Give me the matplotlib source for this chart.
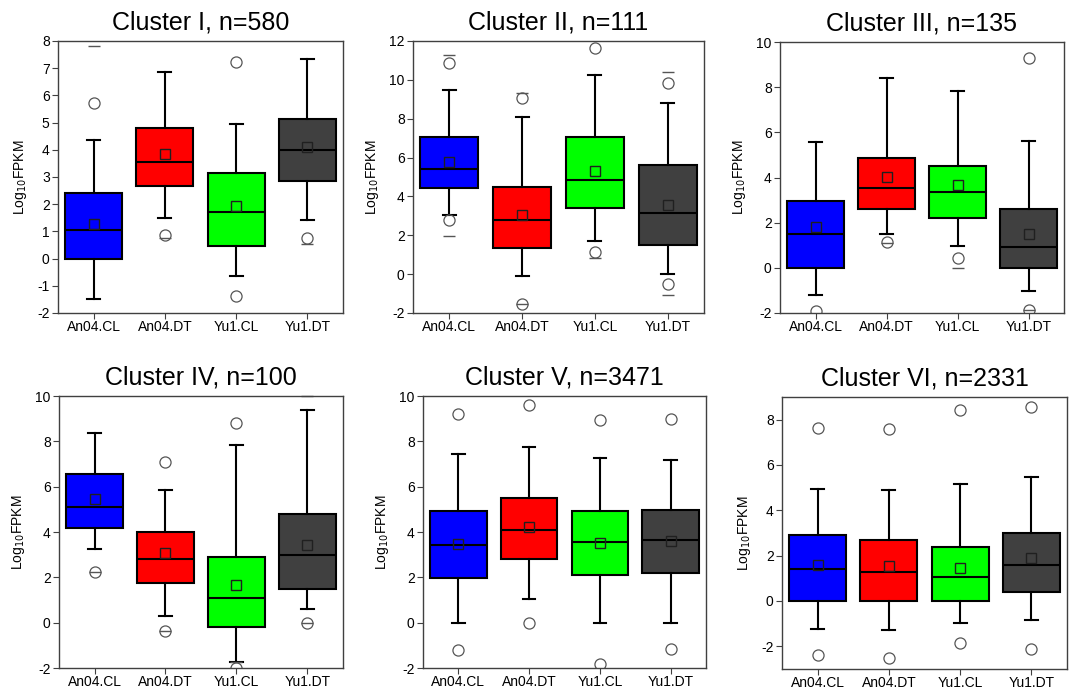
import numpy as np
import matplotlib
matplotlib.use("Agg")
import matplotlib.pyplot as plt

plt.rcParams['font.family'] = ['Liberation Sans', 'DejaVu Sans']
plt.rcParams['axes.unicode_minus'] = False

groups = ["An04.CL", "An04.DT", "Yu1.CL", "Yu1.DT"]
colors = ["#0000FF", "#FF0000", "#00FF00", "#404040"]

titles = ["Cluster I, n=580", "Cluster II, n=111", "Cluster III, n=135",
          "Cluster IV, n=100", "Cluster V, n=3471", "Cluster VI, n=2331"]

# per cluster, per group: q1, median, q3, mean, whisker low, whisker high
q1 = [[0.0, 2.67, 0.45, 2.86],
      [4.42, 1.36, 3.41, 1.49],
      [0.0, 2.60, 2.20, 0.0],
      [4.16, 1.75, -0.20, 1.48],
      [1.98, 2.83, 2.12, 2.21],
      [0.0, 0.0, 0.0, 0.40]]
med = [[1.04, 3.55, 1.73, 3.98],
       [5.39, 2.78, 4.86, 3.16],
       [1.51, 3.53, 3.34, 0.94],
       [5.09, 2.83, 1.09, 3.0],
       [3.43, 4.11, 3.54, 3.63],
       [1.40, 1.28, 1.05, 1.60]]
q3 = [[2.43, 4.80, 3.14, 5.13],
      [7.04, 4.47, 7.05, 5.60],
      [2.98, 4.86, 4.53, 2.61],
      [6.56, 4.02, 2.91, 4.79],
      [4.93, 5.49, 4.93, 4.97],
      [2.91, 2.68, 2.40, 3.02]]
mean = [[1.27, 3.84, 1.92, 4.12],
        [5.77, 3.04, 5.31, 3.58],
        [1.80, 4.04, 3.68, 1.51],
        [5.47, 3.06, 1.65, 3.42],
        [3.49, 4.21, 3.53, 3.60],
        [1.61, 1.53, 1.47, 1.89]]
wlo = [[-1.47, 1.49, -0.64, 1.42],
       [3.04, -0.09, 1.72, 0.0],
       [-1.21, 1.48, 0.96, -1.02],
       [3.25, 0.28, -1.74, 0.62],
       [0.0, 1.03, 0.0, 0.0],
       [-1.22, -1.27, -0.96, -0.83]]
whi = [[4.35, 6.87, 4.96, 7.35],
       [9.49, 8.10, 10.23, 8.80],
       [5.59, 8.40, 7.85, 5.62],
       [8.35, 5.84, 7.83, 9.39],
       [7.45, 7.75, 7.25, 7.16],
       [4.94, 4.91, 5.15, 5.46]]

# 1% / 99% points (circles)
circles = [[[5.72], [0.86], [7.23, -1.39], [0.77]],
           [[10.86, 2.77], [9.09, -1.53], [11.62, 1.15], [9.86, -0.50]],
           [[-1.89], [1.13], [0.44], [9.27, -1.86]],
           [[2.24], [7.11, -0.37], [8.79, -1.98], [0.0]],
           [[9.21, -1.22], [9.62, 0.0], [8.96, -1.82], [8.98, -1.14]],
           [[7.64, -2.40], [7.57, -2.50], [8.43, -1.85], [8.56, -2.10]]]
# min / max marks (dashes)
dashes = [[[7.80], [0.74], [], [0.55]],
          [[11.30, 1.96], [9.30, -1.53], [0.84], [10.42, -1.07]],
          [[], [1.10], [0.0], [-1.86]],
          [[2.24], [-0.37], [-1.74], [0.0, 10.0]],
          [[], [], [], []],
          [[], [], [], []]]

ylims = [(-2, 8), (-2, 12), (-2, 10), (-2, 10), (-2, 10), (-3, 9)]
ysteps = [1, 2, 2, 2, 2, 2]
ystarts = [-2, -2, -2, -2, -2, -2]

# axes boxes in pixels: left, top, right, bottom
W, H = 1072, 691
boxes = [(58, 41, 343, 313), (413, 41, 704, 313), (780, 42, 1064, 313),
         (59, 396, 343, 668), (423, 396, 706, 668), (782, 397, 1067, 669)]

fig = plt.figure(figsize=(W / 100, H / 100), dpi=100)
pos = np.arange(1, 5)

for k in range(6):
    l, t, r, b = boxes[k]
    ax = fig.add_axes([l / W, 1 - b / H, (r - l) / W, (b - t) / H])
    stats = []
    for j in range(4):
        stats.append(dict(med=med[k][j], q1=q1[k][j], q3=q3[k][j],
                          whislo=wlo[k][j], whishi=whi[k][j],
                          mean=mean[k][j], fliers=circles[k][j]))
    bp = ax.bxp(stats, positions=pos, widths=0.8, capwidths=0.18,
                patch_artist=True, showmeans=True,
                boxprops=dict(edgecolor="black", linewidth=1.5),
                medianprops=dict(color="black", linewidth=1.5),
                whiskerprops=dict(color="black", linewidth=1.5),
                capprops=dict(color="black", linewidth=1.5),
                meanprops=dict(marker="s", markerfacecolor="none",
                               markeredgecolor="#202020", markersize=7,
                               markeredgewidth=1.0),
                flierprops=dict(marker="o", markerfacecolor="none",
                                markeredgecolor="#555555", markersize=8,
                                markeredgewidth=0.9))
    for patch, c in zip(bp["boxes"], colors):
        patch.set_facecolor(c)
    for j in range(4):
        if dashes[k][j]:
            ax.plot([pos[j]] * len(dashes[k][j]), dashes[k][j], linestyle="none",
                    marker="_", markersize=8, color="#555555",
                    markeredgewidth=1.0, clip_on=False)
    ax.set_xlim(0.5, 4.5)
    ax.set_ylim(*ylims[k])
    ax.set_yticks(np.arange(ystarts[k], ylims[k][1] + 0.01, ysteps[k]))
    ax.set_xticks(pos)
    ax.set_xticklabels(groups, fontsize=10)
    ax.tick_params(axis="y", labelsize=10, direction="out", length=4,
                   color="#404040", pad=2)
    ax.tick_params(axis="x", direction="out", length=4, color="#404040", pad=1)
    ax.tick_params(top=False, right=False)
    for s in ax.spines.values():
        s.set_color("#404040")
        s.set_linewidth(1.0)
    ax.set_ylabel("Log$_{10}$FPKM", fontsize=10, labelpad=6)
    ax.set_title(titles[k], fontsize=18, pad=8)

fig.savefig("out.png", dpi=100)
